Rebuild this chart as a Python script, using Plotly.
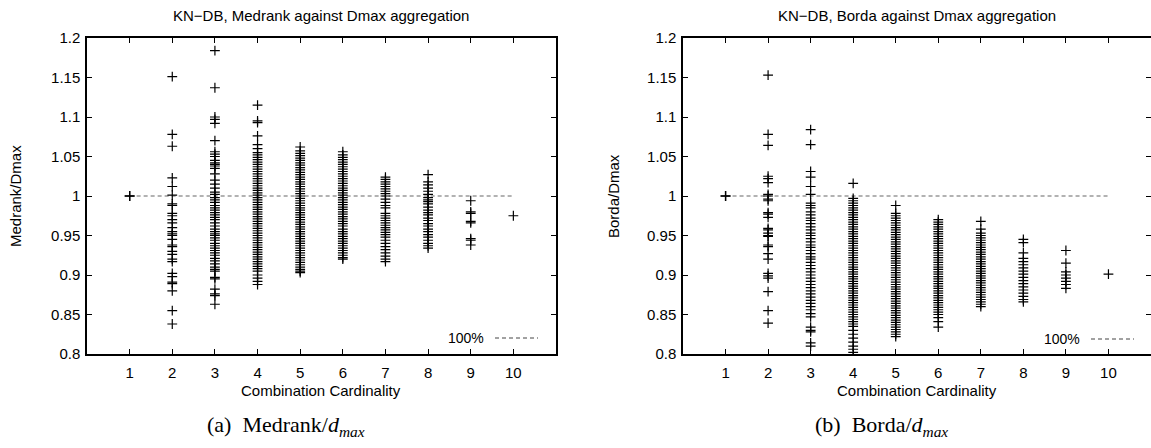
import plotly.graph_objects as go

# ---- data ----
cardinality = [1, 2, 3, 4, 5, 6, 7, 8, 9, 10]

medrank = {
    1: [1.0, 1.0, 1.0],
    2: [1.151, 1.078, 1.063, 1.023, 1.012, 1.001, 0.990, 0.988, 0.978, 0.975, 0.970, 0.966, 0.960,
        0.955, 0.952, 0.950, 0.945, 0.938, 0.936, 0.930, 0.926, 0.920, 0.917, 0.902, 0.898, 0.891,
        0.889, 0.880, 0.855, 0.838],
    3: [1.184, 1.137, 1.100, 1.097, 1.092, 1.070, 1.056, 1.053, 1.050, 1.045, 1.042, 1.040, 1.038,
        1.035, 1.028, 1.020, 1.015, 1.010, 1.005, 1.002, 0.998, 0.995, 0.992, 0.988, 0.985, 0.982,
        0.979, 0.976, 0.973, 0.970, 0.966, 0.962, 0.958, 0.955, 0.952, 0.950, 0.947, 0.944, 0.940,
        0.937, 0.934, 0.931, 0.928, 0.925, 0.921, 0.918, 0.914, 0.910, 0.907, 0.905, 0.897, 0.895,
        0.882, 0.876, 0.874, 0.863],
    4: [1.115, 1.095, 1.093, 1.076, 1.065, 1.060, 1.055, 1.052, 1.049, 1.046, 1.043, 1.040, 1.037,
        1.034, 1.031, 1.028, 1.025, 1.022, 1.019, 1.016, 1.013, 1.010, 1.007, 1.004, 1.001, 0.998,
        0.995, 0.992, 0.989, 0.986, 0.983, 0.980, 0.977, 0.974, 0.971, 0.968, 0.965, 0.962, 0.959,
        0.956, 0.953, 0.950, 0.947, 0.944, 0.941, 0.938, 0.935, 0.932, 0.929, 0.926, 0.923, 0.920,
        0.917, 0.914, 0.911, 0.908, 0.905, 0.900, 0.896, 0.892, 0.888],
    5: [1.062, 1.057, 1.054, 1.051, 1.048, 1.045, 1.042, 1.039, 1.036, 1.033, 1.030, 1.027, 1.024,
        1.021, 1.018, 1.015, 1.012, 1.009, 1.006, 1.003, 1.000, 0.997, 0.994, 0.991, 0.988, 0.985,
        0.982, 0.979, 0.976, 0.973, 0.970, 0.967, 0.964, 0.961, 0.958, 0.955, 0.952, 0.949, 0.946,
        0.943, 0.940, 0.937, 0.934, 0.931, 0.928, 0.925, 0.922, 0.919, 0.916, 0.913, 0.910, 0.907,
        0.905, 0.903],
    6: [1.056, 1.052, 1.049, 1.046, 1.043, 1.040, 1.037, 1.034, 1.031, 1.028, 1.025, 1.022, 1.019,
        1.016, 1.013, 1.010, 1.007, 1.004, 1.001, 0.998, 0.995, 0.992, 0.989, 0.986, 0.983, 0.980,
        0.977, 0.974, 0.971, 0.968, 0.965, 0.962, 0.958, 0.955, 0.952, 0.949, 0.946, 0.943, 0.940,
        0.937, 0.934, 0.931, 0.928, 0.925, 0.922, 0.920],
    7: [1.024, 1.021, 1.018, 1.015, 1.012, 1.009, 1.006, 1.003, 1.000, 0.996, 0.992, 0.988, 0.985,
        0.978, 0.975, 0.972, 0.969, 0.966, 0.963, 0.960, 0.957, 0.954, 0.951, 0.948, 0.944, 0.940,
        0.936, 0.932, 0.928, 0.924, 0.920, 0.917],
    8: [1.027, 1.018, 1.014, 1.010, 1.006, 1.002, 0.998, 0.995, 0.993, 0.990, 0.986, 0.982, 0.979,
        0.976, 0.972, 0.969, 0.965, 0.962, 0.958, 0.955, 0.951, 0.948, 0.944, 0.940, 0.937, 0.934],
    9: [0.994, 0.980, 0.978, 0.968, 0.966, 0.946, 0.944, 0.938],
    10: [0.975],
}

borda = {
    1: [1.0, 1.0, 1.0],
    2: [1.153, 1.078, 1.064, 1.025, 1.022, 1.017, 1.002, 1.000, 0.996, 0.994, 0.979, 0.977, 0.973,
        0.959, 0.957, 0.953, 0.950, 0.949, 0.938, 0.936, 0.927, 0.920, 0.902, 0.899, 0.896, 0.879,
        0.855, 0.839],
    3: [1.084, 1.065, 1.031, 1.024, 1.012, 1.002, 0.991, 0.988, 0.985, 0.980, 0.976, 0.972, 0.969,
        0.965, 0.961, 0.957, 0.953, 0.950, 0.946, 0.942, 0.938, 0.935, 0.931, 0.927, 0.923, 0.920,
        0.916, 0.912, 0.908, 0.904, 0.900, 0.896, 0.892, 0.888, 0.884, 0.880, 0.876, 0.872, 0.868,
        0.864, 0.860, 0.856, 0.851, 0.847, 0.834, 0.830, 0.828, 0.814, 0.810],
    4: [1.016, 0.997, 0.994, 0.991, 0.988, 0.985, 0.982, 0.979, 0.976, 0.973, 0.970, 0.967, 0.964,
        0.961, 0.958, 0.955, 0.952, 0.949, 0.946, 0.943, 0.940, 0.937, 0.934, 0.931, 0.928, 0.925,
        0.922, 0.919, 0.916, 0.913, 0.910, 0.907, 0.904, 0.901, 0.898, 0.895, 0.892, 0.889, 0.886,
        0.883, 0.880, 0.877, 0.874, 0.871, 0.868, 0.865, 0.862, 0.859, 0.856, 0.853, 0.850, 0.847,
        0.844, 0.841, 0.838, 0.835, 0.830, 0.825, 0.820, 0.815, 0.810, 0.806, 0.802],
    5: [0.988, 0.978, 0.975, 0.972, 0.969, 0.966, 0.963, 0.960, 0.957, 0.954, 0.951, 0.948, 0.945,
        0.942, 0.939, 0.936, 0.933, 0.930, 0.927, 0.924, 0.921, 0.918, 0.915, 0.912, 0.909, 0.906,
        0.903, 0.900, 0.897, 0.894, 0.891, 0.888, 0.885, 0.882, 0.879, 0.876, 0.873, 0.870, 0.867,
        0.864, 0.861, 0.858, 0.855, 0.852, 0.849, 0.846, 0.843, 0.840, 0.837, 0.834, 0.831, 0.828,
        0.825, 0.822],
    6: [0.970, 0.967, 0.964, 0.961, 0.958, 0.955, 0.952, 0.949, 0.946, 0.943, 0.940, 0.937, 0.934,
        0.931, 0.928, 0.925, 0.922, 0.919, 0.916, 0.913, 0.910, 0.907, 0.904, 0.901, 0.898, 0.895,
        0.892, 0.889, 0.886, 0.883, 0.880, 0.877, 0.874, 0.871, 0.868, 0.865, 0.862, 0.859, 0.856,
        0.853, 0.850, 0.846, 0.841, 0.834],
    7: [0.968, 0.958, 0.953, 0.950, 0.947, 0.944, 0.941, 0.938, 0.935, 0.932, 0.929, 0.926, 0.923,
        0.920, 0.917, 0.914, 0.911, 0.908, 0.905, 0.902, 0.899, 0.896, 0.893, 0.890, 0.887, 0.884,
        0.881, 0.878, 0.875, 0.872, 0.869, 0.866, 0.863, 0.860],
    8: [0.945, 0.941, 0.928, 0.921, 0.917, 0.913, 0.909, 0.905, 0.901, 0.897, 0.893, 0.889, 0.885,
        0.881, 0.877, 0.873, 0.869, 0.866],
    9: [0.931, 0.915, 0.904, 0.900, 0.896, 0.892, 0.888, 0.883],
    10: [0.901],
}

reference_level = [1.0, 1.0]
reference_x = [1, 10]

y_tick_vals = [0.8, 0.85, 0.9, 0.95, 1.0, 1.05, 1.1, 1.15, 1.2]
y_tick_text = ["0.8", "0.85", "0.9", "0.95", "1", "1.05", "1.1", "1.15", "1.2"]

titles = ["KN\u2212DB, Medrank against Dmax aggregation", "KN\u2212DB, Borda against Dmax aggregation"]
y_titles = ["Medrank/Dmax", "Borda/Dmax"]
captions = ["(a)  Medrank/<i>d</i><sub><i>max</i></sub>", "(b)  Borda/<i>d</i><sub><i>max</i></sub>"]

# ---- figure ----
W, H = 1151, 448
fig = go.Figure()


def px_x(p):
    return p / W


def px_y(p):
    return 1 - p / H


panels = [
    dict(data=medrank, xa="x", ya="y", left=87, right=556, cx=321, ytx=15, capx=286, keyy=338),
    dict(data=borda, xa="x2", ya="y2", left=683, right=1151, cx=917, ytx=613, capx=881, keyy=339),
]
top, bottom = 38, 354

for i, pnl in enumerate(panels):
    xs, ys = [], []
    for c in cardinality:
        for v in pnl["data"][c]:
            xs.append(c)
            ys.append(v)
    fig.add_trace(go.Scatter(
        x=reference_x, y=reference_level, mode="lines", xaxis=pnl["xa"], yaxis=pnl["ya"],
        line=dict(color="#666666", width=1.2, dash="4px,3px"), showlegend=False, hoverinfo="skip"))
    fig.add_trace(go.Scatter(
        x=xs, y=ys, mode="markers", xaxis=pnl["xa"], yaxis=pnl["ya"],
        marker=dict(symbol="cross-thin", size=7, line=dict(color="black", width=1.2)),
        showlegend=False))

tick_font = dict(family="Liberation Sans, Arial, sans-serif", size=15, color="black")
title_font = dict(family="Liberation Sans, Arial, sans-serif", size=15, color="black")
font_s = dict(family="Liberation Sans, Arial, sans-serif", size=15, color="black")
key_font = dict(family="Liberation Sans, Arial, sans-serif", size=14, color="black")

axis_common = dict(showline=True, linecolor="black", linewidth=1.5, mirror="ticks",
                   ticks="inside", ticklen=5, tickwidth=1, tickcolor="black",
                   showgrid=False, zeroline=False, tickfont=tick_font)

for i, pnl in enumerate(panels):
    sfx = "" if i == 0 else str(i + 1)
    fig.layout["xaxis" + sfx] = dict(
        axis_common, domain=[px_x(pnl["left"]), px_x(pnl["right"])], range=[0, 11],
        tickvals=cardinality, ticktext=[str(c) for c in cardinality],
        anchor="y" + sfx, ticklabelstandoff=4)
    fig.layout["yaxis" + sfx] = dict(
        axis_common, domain=[px_y(bottom), px_y(top)], range=[0.8, 1.2],
        tickvals=y_tick_vals, ticktext=y_tick_text, anchor="x" + sfx, ticklabelstandoff=2)

    cx = pnl["cx"]
    fig.add_annotation(x=px_x(cx), y=px_y(15), xref="paper", yref="paper", text=titles[i],
                       showarrow=False, font=title_font, xanchor="center", yanchor="middle")
    fig.add_annotation(x=px_x(cx), y=px_y(390), xref="paper", yref="paper",
                       text="Combination Cardinality", showarrow=False, font=font_s,
                       xanchor="center", yanchor="middle")
    fig.add_annotation(x=px_x(pnl["ytx"]), y=px_y(196), xref="paper", yref="paper",
                       text=y_titles[i], showarrow=False, font=font_s, textangle=-90,
                       xanchor="center", yanchor="middle")
    fig.add_annotation(x=px_x(pnl["capx"]), y=px_y(426), xref="paper", yref="paper",
                       text=captions[i], showarrow=False,
                       font=dict(family="Liberation Serif, Times New Roman, serif", size=22, color="black"),
                       xanchor="center", yanchor="middle")
    # key
    key_right = pnl["left"] + 451
    fig.add_annotation(x=px_x(key_right - 52), y=px_y(pnl["keyy"]), xref="paper", yref="paper",
                       text="100%", showarrow=False, font=key_font, xanchor="right", yanchor="middle")
    fig.add_shape(type="line", xref="paper", yref="paper",
                  x0=px_x(key_right - 43), x1=px_x(key_right), y0=px_y(pnl["keyy"]), y1=px_y(pnl["keyy"]),
                  line=dict(color="#444444", width=1, dash="4px,3px"))

fig.update_layout(width=W, height=H, margin=dict(l=0, r=0, t=0, b=0, pad=0, autoexpand=False),
                  plot_bgcolor="white", paper_bgcolor="white")

fig.write_html("out.html", config={"displayModeBar": False},
               post_script="document.body.style.margin='0';document.body.style.padding='0';"
                           "document.body.style.overflow='hidden';")
